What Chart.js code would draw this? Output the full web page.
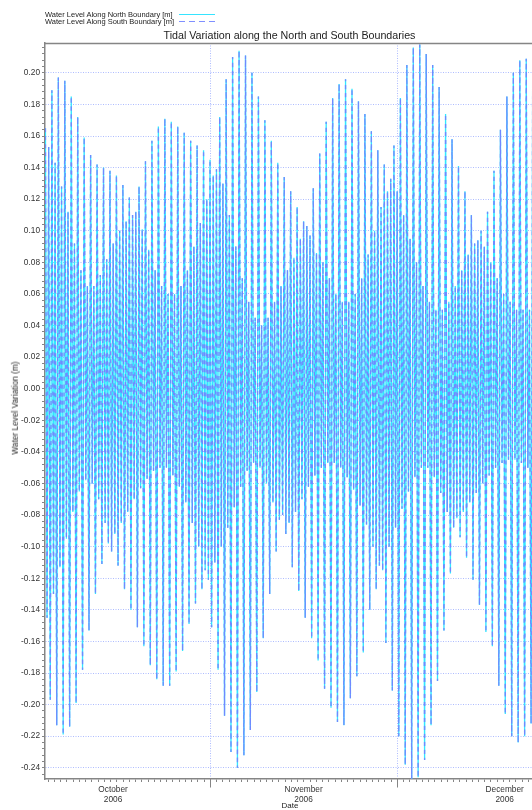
<!DOCTYPE html>
<html>
<head>
<meta charset="utf-8">
<script src="https://cdn.jsdelivr.net/npm/chart.js@4.4.1/dist/chart.umd.min.js"></script>
<style>
html,body{margin:0;padding:0;background:#fff;overflow:hidden;}
#wrap{position:relative;width:532px;height:810px;font-family:"Liberation Sans",Arial,sans-serif;color:#222;}
#c{position:absolute;left:0;top:0;}
.txt{position:absolute;white-space:nowrap;}
.leg{left:45px;font-size:7.5px;line-height:7.5px;}
.legline{position:absolute;left:179px;width:36px;height:1px;}
</style>
</head>
<body>
<div id="wrap">
<canvas id="c" width="532" height="810"></canvas>
<div class="txt leg" style="top:11.3px">Water Level Along North Boundary [m]</div>
<div class="txt leg" style="top:17.9px">Water Level Along South Boundary [m]</div>
<div class="legline" style="top:14px;background:#36e4ff"></div>
<div class="legline" style="top:21px;background:repeating-linear-gradient(90deg,#7f8fff 0 6px,rgba(0,0,0,0) 6px 10px)"></div>
<div class="txt" id="title" style="left:289.5px;top:30.4px;transform:translateX(-50%);font-size:10.7px;line-height:10.7px;">Tidal Variation along the North and South Boundaries</div>
<div class="txt" style="left:15px;top:408px;transform:translate(-50%,-50%) rotate(-90deg);font-size:8.3px;line-height:8.3px;">Water Level Variation (m)</div>
<div class="txt" style="left:290px;top:801.5px;transform:translateX(-50%);font-size:8px;line-height:8px;">Date</div>
</div>
<script>
// ---- data (days counted from 1 Oct 2006 00:00) ----
const firstCycleDay = 4.55;      // time of the first high shown
const tidalDay = 1.035;          // lunar day, one tidal cycle
// four extremes per tidal cycle, in time order: high A, low A, high B, low B (m)
const highA = [0.165,0.189,0.197,0.195,0.185,0.172,0.159,0.148,0.142,0.140,0.138,0.135,0.129,0.121,0.112,0.101,0.088,0.075,0.065,0.060,
  0.060,0.065,0.075,0.090,0.105,0.120,0.135,0.172,0.196,0.210,0.214,0.211,0.200,0.185,0.170,0.157,0.143,0.134,0.125,0.115,
  0.106,0.097,0.086,0.080,0.070,0.060,0.055,0.055,0.060,0.070,0.085,0.100,0.115,0.125,0.154,0.184,0.205,0.216,0.218,0.212,
  0.205,0.191,0.174,0.158,0.141,0.125,0.110,0.094,0.090,0.080,0.070,0.060,0.055,0.050,0.050,0.050];
const lowA = [-0.145,-0.130,-0.113,-0.095,-0.078,-0.065,-0.058,-0.060,-0.070,-0.085,-0.103,-0.112,-0.127,-0.140,-0.151,-0.163,-0.175,-0.184,-0.188,-0.188,
  -0.179,-0.166,-0.149,-0.136,-0.127,-0.121,-0.110,-0.100,-0.088,-0.075,-0.062,-0.052,-0.047,-0.050,-0.060,-0.072,-0.083,-0.092,-0.113,-0.128,
  -0.145,-0.158,-0.172,-0.190,-0.202,-0.211,-0.213,-0.196,-0.182,-0.167,-0.140,-0.127,-0.115,-0.100,-0.088,-0.076,-0.065,-0.056,-0.050,-0.050,
  -0.056,-0.066,-0.078,-0.088,-0.094,-0.107,-0.121,-0.137,-0.154,-0.163,-0.188,-0.206,-0.220,-0.224,-0.220,-0.212];
const highB = [0.153,0.143,0.128,0.112,0.092,0.075,0.065,0.065,0.072,0.082,0.092,0.100,0.106,0.110,0.128,0.144,0.157,0.166,0.171,0.169,
  0.166,0.162,0.157,0.154,0.151,0.145,0.139,0.130,0.110,0.090,0.070,0.055,0.045,0.040,0.045,0.055,0.065,0.075,0.083,0.095,
  0.103,0.127,0.149,0.169,0.184,0.193,0.196,0.190,0.182,0.174,0.163,0.151,0.142,0.133,0.125,0.110,0.095,0.080,0.065,0.055,
  0.050,0.050,0.055,0.065,0.075,0.085,0.092,0.100,0.112,0.138,0.164,0.185,0.200,0.208,0.209,0.209];
const lowB = [-0.197,-0.213,-0.219,-0.214,-0.199,-0.178,-0.153,-0.130,-0.111,-0.098,-0.092,-0.085,-0.078,-0.070,-0.063,-0.057,-0.052,-0.050,-0.050,-0.055,
  -0.062,-0.072,-0.085,-0.100,-0.115,-0.151,-0.178,-0.207,-0.230,-0.240,-0.232,-0.216,-0.192,-0.158,-0.130,-0.103,-0.080,-0.085,-0.078,-0.070,
  -0.062,-0.055,-0.050,-0.047,-0.047,-0.050,-0.056,-0.064,-0.074,-0.086,-0.100,-0.112,-0.161,-0.191,-0.220,-0.238,-0.247,-0.246,-0.235,-0.213,
  -0.185,-0.153,-0.117,-0.082,-0.078,-0.072,-0.066,-0.060,-0.055,-0.050,-0.047,-0.045,-0.045,-0.047,-0.050,-0.052];
// South boundary reads identical to North at this resolution
const southHighA = highA, southLowA = lowA, southHighB = highB, southLowB = lowB;

// ---- axes ----
const xRange = [4.48, 82.58];
const monthStartDays = [31, 61];
const monthLabelDays = [15.4, 45.95, 78.2];
const monthLabels = ['October', 'November', 'December'];
const monthYears = ['2006', '2006', '2006'];
const yRange = [-0.2471, 0.2189];
const yLabelTicks = [-0.24,-0.22,-0.20,-0.18,-0.16,-0.14,-0.12,-0.10,-0.08,-0.06,-0.04,-0.02,0.00,0.02,0.04,0.06,0.08,0.10,0.12,0.14,0.16,0.18,0.20];
const yMinorStep = 0.004;

function series(hA, lA, hB, lB) {
  const pts = [];
  for (let i = 0; i < hA.length; i++) {
    const t = firstCycleDay + i * tidalDay;
    pts.push({x: t, y: hA[i]});
    pts.push({x: t + 0.25 * tidalDay, y: lA[i]});
    pts.push({x: t + 0.5 * tidalDay, y: hB[i]});
    pts.push({x: t + 0.75 * tidalDay, y: lB[i]});
  }
  return pts;
}

const FONT = "'Liberation Sans', Arial, sans-serif";
const AXIS = '#858585';
const GRID = '#aebcff';
const isLabelDay = v => monthLabelDays.some(d => Math.abs(d - v) < 1e-6);
const isMonthStart = v => monthStartDays.some(d => Math.abs(d - v) < 1e-6);
const isMajorY = v => yLabelTicks.some(d => Math.abs(d - v) < 1e-6);

const framePlugin = {
  id: 'frame',
  afterDraw(chart) {
    const {ctx, chartArea: a, scales: {x}} = chart;
    ctx.save();
    ctx.strokeStyle = AXIS;
    ctx.lineWidth = 1.5;
    ctx.beginPath();
    ctx.moveTo(a.left, a.top + 0.5);
    ctx.lineTo(a.right, a.top + 0.5);
    ctx.stroke();
    ctx.lineWidth = 1;
    monthStartDays.forEach(d => {
      const px = Math.round(x.getPixelForValue(d)) + 0.5;
      ctx.beginPath();
      ctx.moveTo(px, a.bottom);
      ctx.lineTo(px, a.bottom + 8.5);
      ctx.stroke();
    });
    ctx.restore();
  }
};

new Chart(document.getElementById('c'), {
  type: 'line',
  data: {
    datasets: [
      {label: 'Water Level Along North Boundary [m]', data: series(highA, lowA, highB, lowB),
       borderColor: '#30e8ff', borderWidth: 1.3, pointRadius: 0, tension: 0, order: 1},
      {label: 'Water Level Along South Boundary [m]', data: series(southHighA, southLowA, southHighB, southLowB),
       borderColor: '#7088ff', borderWidth: 1.3, borderDash: [4, 4], pointRadius: 0, tension: 0, order: 0}
    ]
  },
  options: {
    responsive: false,
    animation: false,
    devicePixelRatio: 1,
    parsing: false,
    normalized: true,
    layout: {padding: {top: 43, left: 0, right: 0, bottom: 0}},
    plugins: {legend: {display: false}, title: {display: false}, tooltip: {enabled: false}},
    scales: {
      x: {
        type: 'linear', min: xRange[0], max: xRange[1],
        afterFit: s => { s.height = 31; },
        afterBuildTicks: s => {
          const t = [];
          for (let d = Math.ceil(xRange[0]); d <= Math.floor(xRange[1]); d++) t.push(d);
          monthLabelDays.forEach(d => t.push(d));
          t.sort((a, b) => a - b);
          s.ticks = t.map(v => ({value: v}));
        },
        ticks: {
          autoSkip: false, maxRotation: 0, minRotation: 0, padding: 3,
          color: '#333', font: {family: FONT, size: 8.3, lineHeight: 1.15},
          callback: v => {
            const i = monthLabelDays.findIndex(d => Math.abs(d - v) < 1e-6);
            return i >= 0 ? [monthLabels[i], monthYears[i]] : '';
          }
        },
        grid: {
          drawOnChartArea: true, drawTicks: true, tickLength: 3, lineWidth: 1,
          color: c => (c.tick && isMonthStart(c.tick.value)) ? GRID : 'rgba(0,0,0,0)',
          tickColor: c => (c.tick && isLabelDay(c.tick.value)) ? 'rgba(0,0,0,0)' : AXIS
        },
        border: {display: true, color: AXIS, width: 1.5, dash: [1, 1.5]}
      },
      y: {
        type: 'linear', min: yRange[0], max: yRange[1],
        afterFit: s => { s.width = 45; },
        afterBuildTicks: s => {
          const t = [];
          for (let i = Math.ceil(yRange[0] / yMinorStep); i <= Math.floor(yRange[1] / yMinorStep); i++) t.push(+(i * yMinorStep).toFixed(3));
          s.ticks = t.map(v => ({value: v}));
        },
        ticks: {
          autoSkip: false, padding: 2, color: '#333', font: {family: FONT, size: 8.3},
          callback: v => isMajorY(v) ? v.toFixed(2) : ''
        },
        grid: {
          drawOnChartArea: true, drawTicks: true, tickLength: 3, lineWidth: 1,
          color: c => (c.tick && isMajorY(c.tick.value)) ? GRID : 'rgba(0,0,0,0)',
          tickColor: AXIS
        },
        border: {display: true, color: AXIS, width: 1.5, dash: [1, 1.5]}
      }
    }
  },
  plugins: [framePlugin]
});
</script>
</body>
</html>
